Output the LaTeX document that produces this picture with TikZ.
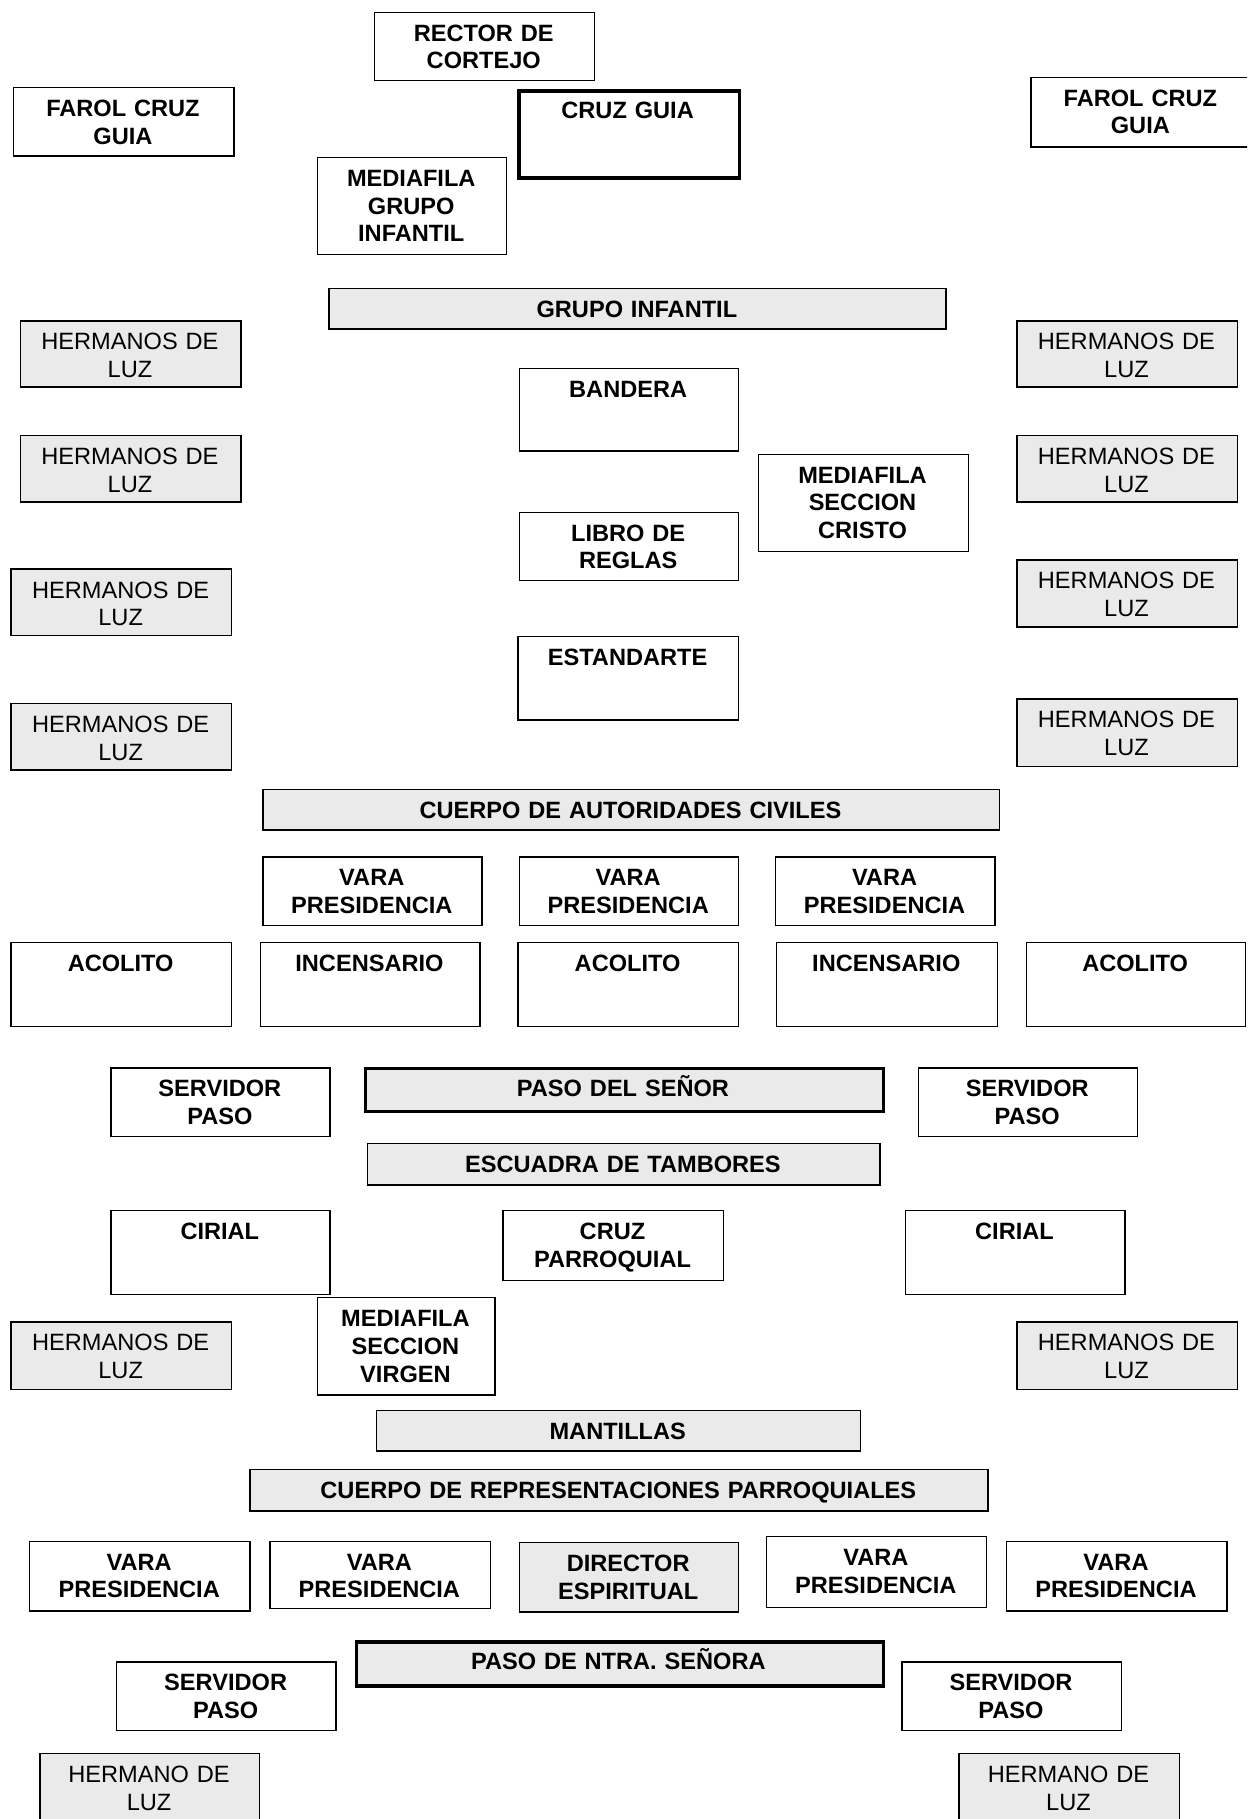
\documentclass[tikz,border=0pt]{standalone}
\usepackage{fontspec}
\setmainfont{Liberation Sans}
\definecolor{boxgrey}{RGB}{234,234,234}

\begin{document}
\begin{tikzpicture}[x=0.58pt,y=0.58pt,
    whitebox/.style={draw,line width=0.7pt,fill=white,inner sep=0pt},
    greybox/.style={whitebox,fill=boxgrey},
    heavybox/.style={whitebox,line width=1.6pt},
    heavygrey/.style={greybox,line width=1.6pt},
    tx/.style={inner sep=0pt,align=center,font=\fontsize{11.8}{13.9}\selectfont\bfseries}]
    %% Cortejo

    % Parameters
    \def\pxu{0.58}
    \def\off{25.5}

    % Box, text from the top
    \def\bx#1#2#3#4#5#6#7{
        \pgfmathsetmacro\bw{(#5-#3)*\pxu}
        \pgfmathsetmacro\bh{(#6-#4)*\pxu}
        \pgfmathsetmacro\tw{\bw-4}
        \node[#1,minimum width=\bw pt,minimum height=\bh pt,anchor=north west]
        (#2) at (#3,-#4) {};
        \node[tx,text width=\tw pt,anchor=base]
        (#2-t) at ({(#3+#5)/2},{-(#4+\off)}) {#7};
    }

    \clip (0,0) rectangle (1075,-1568);

    % Head
    \bx{whitebox}{rector}{322}{10}{512}{69}{RECTOR DE\\CORTEJO}
    \bx{whitebox}{farolL}{11}{75}{201}{134}{FAROL CRUZ\\GUIA}
    \bx{heavybox}{cruzguia}{446}{77}{636}{152}{CRUZ GUIA}
    \bx{whitebox}{farolR}{888}{66}{1078}{126}{FAROL CRUZ\\GUIA}
    \bx{whitebox}{mfinfantil}{273}{135}{436}{219}{MEDIAFILA\\GRUPO\\INFANTIL}

    % Grupo infantil and tramo of the Cristo
    \bx{greybox}{grupoinf}{283}{248}{815}{283}{GRUPO INFANTIL}
    \bx{greybox}{luzL1}{17}{276}{207}{333}{\mdseries HERMANOS DE\\LUZ}
    \bx{greybox}{luzR1}{876}{276}{1066}{333}{\mdseries HERMANOS DE\\LUZ}
    \bx{whitebox}{bandera}{447}{317}{636}{388}{BANDERA}
    \bx{greybox}{luzL2}{17}{375}{207}{432}{\mdseries HERMANOS DE\\LUZ}
    \bx{greybox}{luzR2}{876}{375}{1066}{432}{\mdseries HERMANOS DE\\LUZ}
    \bx{whitebox}{mfcristo}{653}{391}{834}{475}{MEDIAFILA\\SECCION\\CRISTO}
    \bx{whitebox}{libro}{447}{441}{636}{500}{LIBRO DE\\REGLAS}
    \bx{greybox}{luzL3}{9}{490}{199}{547}{\mdseries HERMANOS DE\\LUZ}
    \bx{greybox}{luzR3}{876}{482}{1066}{540}{\mdseries HERMANOS DE\\LUZ}
    \bx{whitebox}{estandarte}{446}{548}{636}{620}{ESTANDARTE}
    \bx{greybox}{luzL4}{9}{606}{199}{663}{\mdseries HERMANOS DE\\LUZ}
    \bx{greybox}{luzR4}{876}{602}{1066}{660}{\mdseries HERMANOS DE\\LUZ}

    % Presidencia and paso del Senor
    \bx{greybox}{civiles}{226}{680}{861}{715}{CUERPO DE AUTORIDADES CIVILES}
    \bx{whitebox}{varaA}{226}{738}{415}{797}{VARA\\PRESIDENCIA}
    \bx{whitebox}{varaB}{447}{738}{636}{797}{VARA\\PRESIDENCIA}
    \bx{whitebox}{varaC}{668}{738}{857}{797}{VARA\\PRESIDENCIA}
    \bx{whitebox}{acolitoA}{9}{812}{199}{884}{ACOLITO}
    \bx{whitebox}{incensA}{224}{812}{413}{884}{INCENSARIO}
    \bx{whitebox}{acolitoB}{446}{812}{636}{884}{ACOLITO}
    \bx{whitebox}{incensB}{669}{812}{859}{884}{INCENSARIO}
    \bx{whitebox}{acolitoC}{884}{812}{1073}{884}{ACOLITO}
    \bx{whitebox}{servA}{95}{920}{284}{979}{SERVIDOR\\PASO}
    \bx{heavygrey}{pasosenor}{314}{920}{760}{957}{PASO DEL SEÑOR}
    \bx{whitebox}{servB}{791}{920}{980}{979}{SERVIDOR\\PASO}
    \bx{greybox}{tambores}{316}{985}{758}{1021}{ESCUADRA DE TAMBORES}

    % Tramo of the Virgen
    \bx{whitebox}{cirialL}{95}{1043}{284}{1115}{CIRIAL}
    \bx{whitebox}{cruzparr}{433}{1043}{623}{1103}{CRUZ\\PARROQUIAL}
    \bx{whitebox}{cirialR}{780}{1043}{969}{1115}{CIRIAL}
    \bx{greybox}{luzL5}{9}{1139}{199}{1197}{\mdseries HERMANOS DE\\LUZ}
    \bx{whitebox}{mfvirgen}{273}{1118}{426}{1202}{MEDIAFILA\\SECCION\\VIRGEN}
    \bx{greybox}{luzR5}{876}{1139}{1066}{1197}{\mdseries HERMANOS DE\\LUZ}
    \bx{greybox}{mantillas}{324}{1215}{741}{1250}{MANTILLAS}
    \bx{greybox}{parroquiales}{215}{1266}{851}{1302}{CUERPO DE REPRESENTACIONES PARROQUIALES}

    % Presidencia and paso de la Virgen
    \bx{whitebox}{varaD}{25}{1328}{215}{1388}{VARA\\PRESIDENCIA}
    \bx{whitebox}{varaE}{232}{1328}{422}{1386}{VARA\\PRESIDENCIA}
    \bx{greybox}{director}{447}{1329}{636}{1389}{DIRECTOR\\ESPIRITUAL}
    \bx{whitebox}{varaF}{660}{1324}{850}{1385}{VARA\\PRESIDENCIA}
    \bx{whitebox}{varaG}{867}{1328}{1057}{1388}{VARA\\PRESIDENCIA}
    \bx{heavygrey}{pasovirgen}{306}{1414}{760}{1452}{PASO DE NTRA. SEÑORA}
    \bx{whitebox}{servC}{100}{1432}{289}{1491}{SERVIDOR\\PASO}
    \bx{whitebox}{servD}{777}{1432}{966}{1491}{SERVIDOR\\PASO}
    \bx{greybox}{luzL6}{34}{1511}{223}{1575}{\mdseries HERMANO DE\\LUZ}
    \bx{greybox}{luzR6}{826}{1511}{1016}{1575}{\mdseries HERMANO DE\\LUZ}

\end{tikzpicture}
\end{document}
